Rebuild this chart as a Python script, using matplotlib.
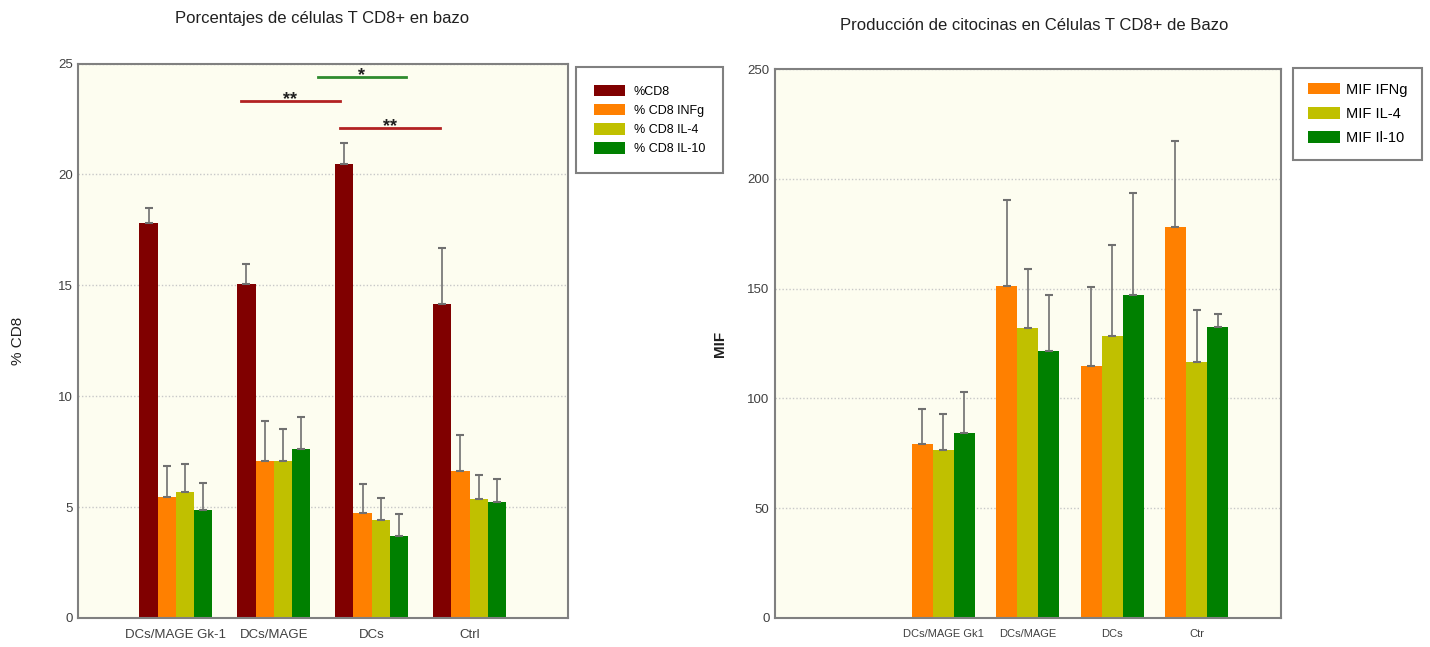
import matplotlib
matplotlib.use("Agg")
import matplotlib.pyplot as plt
import numpy as np

plt.rcParams['font.family'] = ['Liberation Sans', 'DejaVu Sans']

# ---- Left chart data ----
left_groups = ["DCs/MAGE Gk-1", "DCs/MAGE", "DCs", "Ctrl"]
left_series = ["%CD8", "% CD8 INFg", "% CD8 IL-4", "% CD8 IL-10"]
cd8 = [17.8, 15.05, 20.45, 14.15]
cd8_err = [0.7, 0.9, 0.95, 2.55]
infg = [5.45, 7.1, 4.75, 6.65]
infg_err = [1.4, 1.8, 1.3, 1.6]
il4 = [5.7, 7.1, 4.42, 5.38]
il4_err = [1.25, 1.4, 1.0, 1.05]
il10 = [4.88, 7.6, 3.68, 5.25]
il10_err = [1.2, 1.45, 1.0, 1.0]
left_ticks = [0, 5, 10, 15, 20, 25]

# significance brackets
sig_x0 = [1.66, 2.45, 2.68]
sig_x1 = [2.68, 3.35, 3.70]
sig_y = [23.3, 24.4, 22.1]
sig_lbl = ["**", "*", "**"]
sig_col = ["#b22222", "#2e8b2e", "#b22222"]

# ---- Right chart data ----
right_groups = ["DCs/MAGE Gk1", "DCs/MAGE", "DCs", "Ctr"]
right_series = ["MIF IFNg", "MIF IL-4", "MIF Il-10"]
mif_ifng = [79.1, 151.3, 114.8, 177.9]
mif_ifng_err = [15.9, 39.0, 35.8, 39.5]
mif_il4 = [76.5, 131.9, 128.4, 116.4]
mif_il4_err = [16.4, 26.9, 41.5, 23.9]
mif_il10 = [84.4, 121.7, 147.1, 132.4]
mif_il10_err = [18.4, 25.3, 46.6, 6.0]
right_ticks = [0, 50, 100, 150, 200, 250]

C_RED = "#800000"
C_ORANGE = "#ff8000"
C_YELLOW = "#c0c000"
C_GREEN = "#008000"
BG = "#fdfdf0"
ERR = "#707070"
SPINE = "#808080"

fig = plt.figure(figsize=(14.3, 6.47), dpi=100)

def style_axes(ax, ticks):
    ax.set_facecolor(BG)
    for s in ax.spines.values():
        s.set_color(SPINE)
        s.set_linewidth(1.5)
    ax.set_yticks(ticks)
    ax.yaxis.grid(True, linestyle=(0, (1, 1.5)), color="#c8c8c8", linewidth=1)
    ax.set_axisbelow(True)
    ax.tick_params(axis='both', length=0, colors="#404040", labelsize=9.5)

# Left axes
axL = fig.add_axes([78/1430, 29/647, (567.5-78)/1430, (618-63.5)/647])
style_axes(axL, left_ticks)
xL = np.arange(1, len(left_groups) + 1)
w = 0.186
vals = [cd8, infg, il4, il10]
errs = [cd8_err, infg_err, il4_err, il10_err]
cols = [C_RED, C_ORANGE, C_YELLOW, C_GREEN]
for i, (v, e, c, lab) in enumerate(zip(vals, errs, cols, left_series)):
    pos = xL + (i - 1.5) * w
    axL.bar(pos, v, width=w, color=c, label=lab, zorder=2)
    axL.errorbar(pos, v, yerr=[np.zeros(len(e)), e], fmt='none', ecolor=ERR,
                 elinewidth=1.2, capsize=3, capthick=1.5, zorder=3)
for x0, x1, y, lb, c in zip(sig_x0, sig_x1, sig_y, sig_lbl, sig_col):
    axL.plot([x0, x1], [y, y], color=c, linewidth=2, zorder=4)
    axL.annotate(lb, ((x0 + x1) / 2, y), xytext=(0, -5), textcoords='offset points',
                 ha='center', va='bottom', fontsize=13, fontweight='bold',
                 color="#202020", zorder=5)
axL.set_xlim(0, 5)
axL.set_ylim(0, 25)
axL.set_xticks(xL)
axL.set_xticklabels(left_groups, fontsize=9.5)
axL.tick_params(axis='x', pad=8)
axL.set_ylabel("% CD8", fontsize=11, color="#202020", labelpad=24)
fig.text(322/1430, 1 - 18/647, "Porcentajes de células T CD8+ en bazo",
         ha='center', va='center', fontsize=12, color="#202020")
legL = axL.legend(loc='upper left', bbox_to_anchor=(1.0174, 0.9937), borderaxespad=0,
                  frameon=True, fancybox=False, fontsize=9, handlelength=2.5,
                  handleheight=1.0, handletextpad=0.65, borderpad=1.45,
                  labelspacing=0.5, edgecolor="#606060")
legL.get_frame().set_linewidth(1.5)

# Right axes
axR = fig.add_axes([774.5/1430, 29/647, (1281-774.5)/1430, (618-69)/647])
style_axes(axR, right_ticks)
xR = np.arange(2, 2 + len(right_groups))
w2 = 0.25
rvals = [mif_ifng, mif_il4, mif_il10]
rerrs = [mif_ifng_err, mif_il4_err, mif_il10_err]
rcols = [C_ORANGE, C_YELLOW, C_GREEN]
for i, (v, e, c, lab) in enumerate(zip(rvals, rerrs, rcols, right_series)):
    pos = xR + (i - 1) * w2
    axR.bar(pos, v, width=w2, color=c, label=lab, zorder=2)
    axR.errorbar(pos, v, yerr=[np.zeros(len(e)), e], fmt='none', ecolor=ERR,
                 elinewidth=1.2, capsize=3, capthick=1.5, zorder=3)
axR.set_xlim(0, 6)
axR.set_ylim(0, 250)
axR.set_xticks(xR)
axR.set_xticklabels(right_groups, fontsize=8)
axR.tick_params(axis='x', pad=8)
axR.set_ylabel("MIF", fontsize=11, fontweight='bold', color="#202020", labelpad=15)
fig.text(1034/1430, 1 - 25/647, "Producción de citocinas en Células T CD8+ de Bazo",
         ha='center', va='center', fontsize=12, color="#202020")
legR = axR.legend(loc='upper left', bbox_to_anchor=(1.0237, 1.0018), borderaxespad=0,
                  frameon=True, fancybox=False, fontsize=10.5, handlelength=2.2,
                  handleheight=0.85, handletextpad=0.45, borderpad=1.0,
                  labelspacing=0.7, edgecolor="#606060")
legR.get_frame().set_linewidth(1.5)

fig.savefig("out.png", dpi=100)
